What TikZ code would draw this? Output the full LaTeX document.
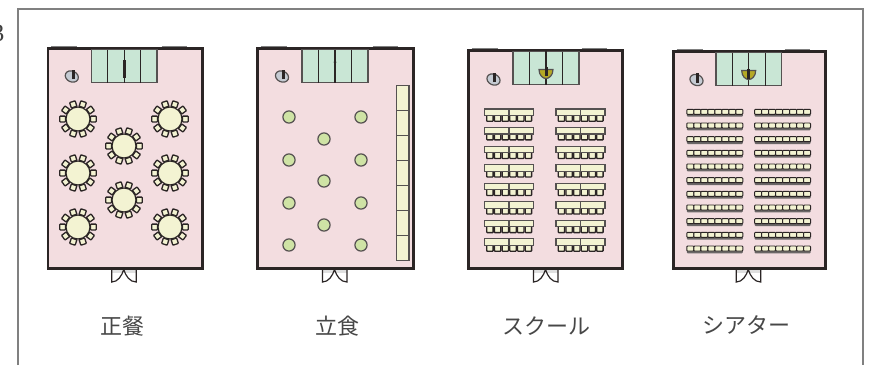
\documentclass[tikz,border=0pt]{standalone}
\usepackage{fontspec}
\newfontfamily\cjk{Noto Sans CJK JP}
\setmainfont{Liberation Serif}
\definecolor{roompink}{HTML}{F3DDE0}
\definecolor{stagegreen}{HTML}{C9E6D5}
\definecolor{tablecream}{HTML}{F3F3D2}
\definecolor{dotgreen}{HTML}{CFE3A5}
\definecolor{walldark}{HTML}{2B2525}
\definecolor{framegray}{HTML}{808080}
\definecolor{lectern}{HTML}{B5A925}
\definecolor{icongray}{HTML}{C5CBD3}
\tikzset{
  framepart/.style={draw=framegray,line width=1.4pt},
  wall/.style={draw=walldark,fill=roompink,line width=2.8pt,line join=miter},
  windowstrip/.style={draw=framegray,line width=1.4pt},
  stagebox/.style={draw=walldark!80,fill=stagegreen,line width=1.2pt},
  stageline/.style={draw=walldark,line width=1.1pt},
  roundtable/.style={draw=walldark,fill=tablecream,line width=1.2pt},
  seatbox/.style={draw=walldark,fill=tablecream,line width=1.3pt,rounded corners=.6pt},
  theatreseat/.style={draw=walldark,fill=tablecream,line width=.9pt,rounded corners=.8pt},
  tablebox/.style={draw=walldark!80,fill=tablecream,line width=1.2pt},
  standtable/.style={draw=walldark!80,fill=dotgreen,line width=1.2pt},
  doorline/.style={draw=walldark,line width=1.2pt,fill=none},
  roomlabel/.style={font=\cjk\fontsize{22}{22}\selectfont,text=black!72,inner sep=0pt,anchor=center},
  iconbase/.style={draw=walldark!80,fill=icongray,line width=1.2pt}
}
% room shell: left, right, top, stage left, stage width
\newcommand{\roomshell}[5]{%
  \pgfmathsetmacro{\rl}{#1}\pgfmathsetmacro{\rr}{#2}\pgfmathsetmacro{\rt}{#3}
  \pgfmathsetmacro{\dc}{(#4)+(#5)/2-0.5}
  \fill[white!88!black] (\dc-12,269.5) rectangle (\dc+12.5,273);
  \draw[doorline] (\dc-12,269.5) -- (\dc-12,282) .. controls (\dc-6,282) and (\dc-2,276) .. (\dc,269.5)
        .. controls (\dc+2,276) and (\dc+6,282) .. (\dc+12.5,282) -- (\dc+12.5,269.5);
  \draw[windowstrip] (\rl+3,\rt-1.8) -- ++(26,0);
  \draw[windowstrip] (\rr-41,\rt-1.8) -- ++(25,0);
  \draw[wall] (\rl,\rt) rectangle (\rr,268.5);
  \draw[stagebox] (#4,\rt+1) rectangle ++(#5,33);
  \foreach \k in {1,2,3}{\draw[stageline] ({#4+\k*(#5)/4},\rt+1) -- ++(0,33);}
}
% small icon top left in the room
\newcommand{\roomicon}[2]{%
  \draw[iconbase,rotate around={-25:(#1,#2)}] (#1,#2) ellipse [x radius=6.8pt,y radius=5.4pt];
  \draw[walldark,line width=3pt] (#1+1.3,#2+2.5) -- (#1+1.3,#2-7);
}
% round table with ten seats
\newcommand{\banquet}[2]{%
  \begin{scope}[shift={(#1,#2)}]
    \foreach \a in {0,36,...,324}{
      \draw[seatbox,rotate=\a] (12.5pt,-2.9pt) rectangle (18.2pt,2.9pt);}
    \draw[roundtable] (0,0) circle [radius=12pt];
  \end{scope}
}
% school row: left, top
\newcommand{\schoolrow}[2]{%
  \begin{scope}[shift={(#1,#2)}]
    \foreach \k in {0,...,5}{\draw[seatbox] (2.2+\k*7.7,5) rectangle ++(6.4,7.3);}
    \draw[tablebox] (0,0) rectangle (24.5,6.5);
    \draw[tablebox] (24.5,0) rectangle (49,6.5);
  \end{scope}
}
% theatre row: left, top
\newcommand{\theatrerow}[2]{%
  \begin{scope}[shift={(#1,#2)}]
    \fill[walldark!70,rounded corners=1pt] (0,1.5) rectangle (56,7.4);
    \foreach \k in {0,...,7}{\draw[theatreseat] (\k*7,0) rectangle ++(7,5);}
  \end{scope}
}
\newcommand{\podium}[2]{%
  \draw[draw=walldark!80,fill=lectern,line width=1.2pt]
    (#1-7,#2-4) -- (#1+7,#2-4) .. controls (#1+7,#2+2) and (#1+3,#2+5) .. (#1,#2+5)
    .. controls (#1-3,#2+5) and (#1-7,#2+2) .. (#1-7,#2-4) -- cycle;
}
\begin{document}
\begin{tikzpicture}[x=1pt,y=-1pt]
\useasboundingbox (0,0) rectangle (870,365);
% outer frame, open at the foot
\draw[framepart] (18,365) -- (18,9) -- (863,9) -- (863,365);
\begin{scope}
  \clip (0,0) rectangle (6,60);
  \node (cutmark) [anchor=east,inner sep=0pt,text=black!75,font=\fontsize{25}{25}\selectfont] at (4.6,33) {3};
\end{scope}

% ---------- banquet ----------
\roomshell{48}{202.5}{48.5}{91.5}{65.5}
\roomicon{71.8}{76.5}
\draw[walldark,line width=3pt] (124.3,60) -- (124.3,78);
\foreach \p/\q in {78/119,170/119,124/146,78/173,170/173,124/200,78/227,170/227}{\banquet{\p}{\q}}

% ---------- standing ----------
\roomshell{257.5}{413.5}{48.5}{302}{66}
\roomicon{282}{76.5}
\draw[walldark,line width=1.2pt] (335,49.5) -- (335,82);
\fill[walldark] (335,62) circle [radius=1.5pt];
\foreach \p/\q in {289/117,361/117,324/139,289/160,361/160,324/181,289/203,361/203,324/225,289/245,361/245}{
  \draw[standtable] (\p,\q) circle [radius=6.1pt];}
\foreach \k in {0,...,6}{\draw[tablebox] (396.5,85.7+\k*25) rectangle ++(12.5,25);}

% ---------- school ----------
\roomshell{468.5}{622.5}{50.5}{513}{66}
\roomicon{493.5}{79.5}
\draw[walldark,line width=1.2pt] (546,51) -- (546,72);
\podium{546}{73.5}
\draw[walldark,line width=3pt] (546,67) -- (546,76);
\foreach \r in {0,...,7}{
  \schoolrow{484.5}{109+\r*18.55}
  \schoolrow{556}{109+\r*18.55}
}

% ---------- theatre ----------
\roomshell{673.5}{825.5}{51.5}{716}{65.5}
\roomicon{696.5}{80}
\draw[walldark,line width=1.2pt] (748.7,52.5) -- (748.7,66);
\podium{748.7}{74.5}
\draw[walldark,line width=3pt] (748.7,69) -- (748.7,79);
\foreach \r in {0,...,10}{
  \theatrerow{686.8}{109.3+\r*13.67}
  \theatrerow{754.6}{109.3+\r*13.67}
}

% ---------- labels ----------
\node[roomlabel] (lab1) at (122,326) {正餐};
\node[roomlabel] (lab2) at (337,326) {立食};
\node[roomlabel] (lab3) at (546,326) {スクール};
\node[roomlabel] (lab4) at (746,325) {シアター};
\end{tikzpicture}
\end{document}
